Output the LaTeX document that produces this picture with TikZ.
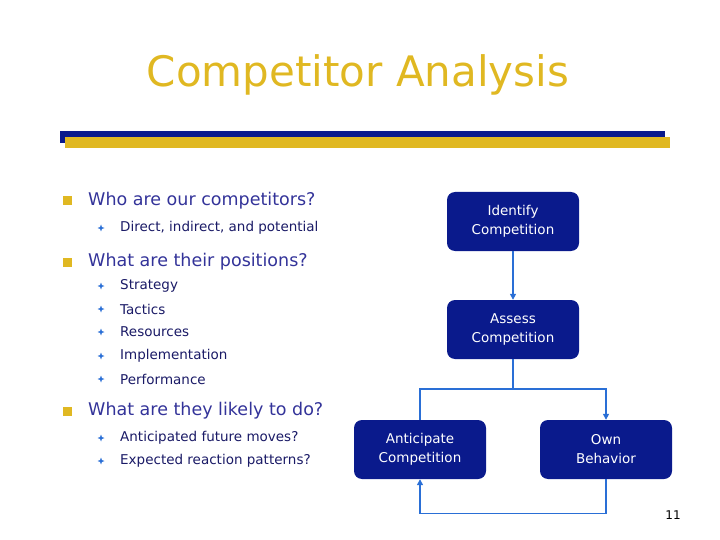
\documentclass[tikz,border=0pt]{standalone}
\usepackage{fontspec}
\setmainfont{DejaVu Sans}
\usetikzlibrary{arrows.meta,shapes.geometric}
\definecolor{gold}{HTML}{E0B822}
\definecolor{navy}{HTML}{0A1A8C}
\definecolor{txt}{HTML}{333399}
\definecolor{sub}{HTML}{1A1A66}
\definecolor{lineblue}{HTML}{2A6FD6}
\begin{document}
\begin{tikzpicture}[x=1pt,y=-1pt,
  box/.style={draw=none,fill=navy,rounded corners=8pt,text=white,align=center,font=\fontsize{13.5}{19}\selectfont,inner sep=0pt},
  l1/.style={anchor=west,text=txt,font=\fontsize{17.5}{20}\selectfont,inner sep=0pt},
  l2/.style={anchor=west,text=sub,font=\fontsize{13.5}{16}\selectfont,inner sep=0pt},
  sq/.style={fill=gold,draw=none,minimum size=9pt,inner sep=0pt},
  st/.style={fill=lineblue,draw=none,star,star points=4,star point ratio=2.6,minimum size=7pt,inner sep=0pt},
  conn/.style={draw=lineblue,line width=1.4pt},
  arr/.style={conn,-{Triangle[length=6pt,width=6pt]}}]
\useasboundingbox (0,0) rectangle (720,540);
\node[text=gold,font=\fontsize{42}{46}\selectfont] (title) at (358,75) {Competitor Analysis};
\fill[navy] (60,131) rectangle (665,143);
\fill[gold] (65,137) rectangle (670,148);
% bullets
\node[sq] (b1) at (67,201) {};
\node[l1] (t1) at (88,201) {Who are our competitors?};
\node[sq] (b2) at (67,262) {};
\node[l1] (t2) at (88,262) {What are their positions?};
\node[sq] (b3) at (67,411) {};
\node[l1] (t3) at (88,411) {What are they likely to do?};
\foreach \y/\t [count=\i] in {228/{Direct, indirect, and potential},286/Strategy,309/Tactics,332/Resources,356/Implementation,379/Performance,438/{Anticipated future moves?},461/{Expected reaction patterns?}}{
  \node[st] (s\i) at (101,\y) {};
  \node[l2] (u\i) at (120,\y) {\t};
}
% boxes
\node[box,minimum width=132pt,minimum height=59pt] (id) at (513,221.5) {Identify\\Competition};
\node[box,minimum width=132pt,minimum height=59pt] (as) at (513,329.5) {Assess\\Competition};
\node[box,minimum width=132pt,minimum height=59pt] (an) at (420,449.5) {Anticipate\\Competition};
\node[box,minimum width=132pt,minimum height=59pt] (ow) at (606,449.5) {Own\\Behavior};
\coordinate (j) at (513,389);
\draw[arr] (id.south) -- (as.north);
\draw[conn] (as.south) -- (j);
\draw[conn] (j) -| (an.north);
\draw[arr] (j) -| (ow.north);
\draw[arr] (ow.south) -- ++(0,34) -| (an.south);
\node[font=\fontsize{12}{14}\selectfont] (pg) at (673,515) {11};
\end{tikzpicture}
\end{document}
